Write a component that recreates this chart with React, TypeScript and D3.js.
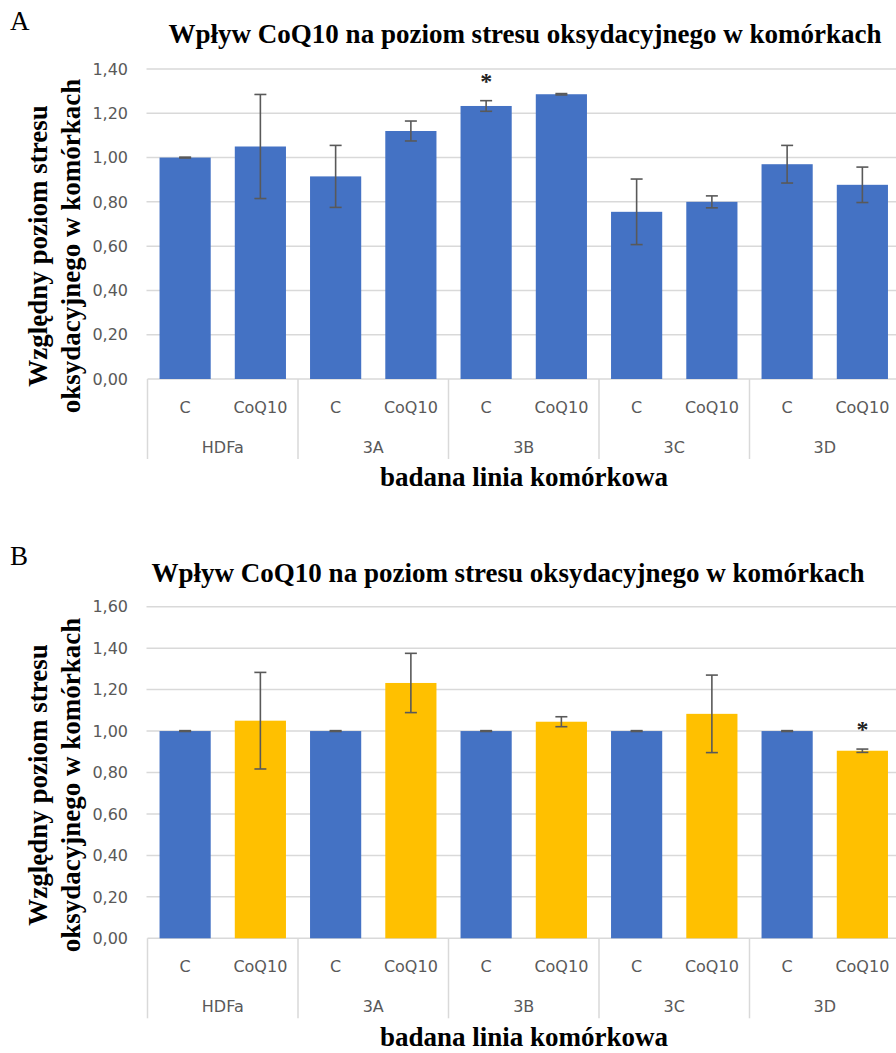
import React from "react";
import * as d3 from "d3";

const categories = ["C", "CoQ10", "C", "CoQ10", "C", "CoQ10", "C", "CoQ10", "C", "CoQ10"];
const groups = ["HDFa", "3A", "3B", "3C", "3D"];
const valuesA = [1.0, 1.05, 0.915, 1.12, 1.233, 1.286, 0.755, 0.8, 0.97, 0.877];
const errorsA = [0.002, 0.235, 0.14, 0.045, 0.024, 0.003, 0.148, 0.027, 0.085, 0.08];
const starsA = [false, false, false, false, true, false, false, false, false, false];
const valuesB = [1.0, 1.05, 1.0, 1.232, 1.0, 1.045, 1.0, 1.083, 1.0, 0.905];
const errorsB = [0.002, 0.233, 0.002, 0.143, 0.002, 0.024, 0.002, 0.187, 0.002, 0.008];
const starsB = [false, false, false, false, false, false, false, false, false, true];
const ticksA = [0, 0.2, 0.4, 0.6, 0.8, 1.0, 1.2, 1.4];
const ticksB = [0, 0.2, 0.4, 0.6, 0.8, 1.0, 1.2, 1.4, 1.6];
const colorsA = ["#4472C4", "#4472C4"];
const colorsB = ["#4472C4", "#FFC000"];

const titleText = "Wpływ CoQ10 na poziom stresu oksydacyjnego w komórkach";
const yTitle1 = "Względny poziom stresu";
const yTitle2 = "oksydacyjnego w komórkach";
const xTitle = "badana linia komórkowa";

const plLocale = d3.formatLocale({ decimal: ",", thousands: " ", grouping: [3], currency: ["", " zł"] });
const fmt = plLocale.format(".2f");

const serif = "'Liberation Serif', 'Times New Roman', serif";
const sans = "'DejaVu Sans', Verdana, sans-serif";

type PanelProps = {
  letter: string;
  letterY: number;
  titleX: number;
  titleY: number;
  yZero: number;
  yTop: number;
  yMax: number;
  ticks: number[];
  values: number[];
  errors: number[];
  stars: boolean[];
  colors: string[];
  yTitleCenter: number;
  xTitleY: number;
};

function Panel(p: PanelProps) {
  const left = 147.5;
  const right = 900;
  const x = d3.scaleBand<number>().domain(d3.range(categories.length)).range([left, right]).paddingInner(0.32).paddingOuter(0.16);
  const xg = d3.scaleBand<string>().domain(groups).range([left, right]).padding(0);
  const y = d3.scaleLinear().domain([0, p.yMax]).range([p.yZero, p.yTop]);
  const sepBottom = p.yZero + 80;
  const catY = p.yZero + 33.5;
  const grpY = p.yZero + 73.5;
  return (
    <g>
      <text x={10} y={p.letterY} fontFamily={serif} fontSize={27} fill="#000">{p.letter}</text>
      <text x={p.titleX} y={p.titleY} textAnchor="middle" fontFamily={serif} fontWeight="bold" fontSize={27} fill="#000">{titleText}</text>
      {p.ticks.map((t) => (
        <g key={"t" + t}>
          {t > 0 && <line x1={left - 1} x2={896} y1={y(t)} y2={y(t)} stroke="#D9D9D9" strokeWidth={1.5} />}
          <text x={128} y={y(t)} dy="0.36em" textAnchor="end" fontFamily={sans} fontSize={16} fill="#595959">{fmt(t)}</text>
        </g>
      ))}
      <line x1={left} x2={896} y1={p.yZero} y2={p.yZero} stroke="#D9D9D9" strokeWidth={1.5} />
      {p.values.map((v, i) => (
        <rect key={"b" + i} x={x(i)} y={y(v)} width={x.bandwidth()} height={y(0) - y(v)} fill={p.colors[i % 2]} />
      ))}
      {p.values.map((v, i) => {
        const cx = (x(i) as number) + x.bandwidth() / 2;
        const hi = y(v + p.errors[i]);
        const lo = y(v - p.errors[i]);
        return (
          <g key={"e" + i} stroke="#595959" strokeWidth={1.6}>
            <line x1={cx} x2={cx} y1={hi} y2={lo} />
            <line x1={cx - 6} x2={cx + 6} y1={hi} y2={hi} />
            <line x1={cx - 6} x2={cx + 6} y1={lo} y2={lo} />
          </g>
        );
      })}
      {p.values.map((v, i) =>
        p.stars[i] ? (
          <text key={"s" + i} x={(x(i) as number) + x.bandwidth() / 2} y={y(v + p.errors[i]) - 12} textAnchor="middle" fontFamily={serif} fontWeight="bold" fontSize={24} fill="#222">*</text>
        ) : null
      )}
      {d3.range(groups.length + 1).map((g) => {
        const gx = g < groups.length ? (xg(groups[g]) as number) : right;
        return <line key={"sep" + g} x1={gx} x2={gx} y1={p.yZero} y2={sepBottom} stroke="#D9D9D9" strokeWidth={1.5} />;
      })}
      {categories.map((c, i) => (
        <text key={"c" + i} x={(x(i) as number) + x.bandwidth() / 2} y={catY} textAnchor="middle" fontFamily={sans} fontSize={16} fill="#595959">{c}</text>
      ))}
      {groups.map((g) => (
        <text key={"g" + g} x={(xg(g) as number) + xg.bandwidth() / 2} y={grpY} textAnchor="middle" fontFamily={sans} fontSize={16} fill="#595959">{g}</text>
      ))}
      <text transform={`translate(47,${p.yTitleCenter}) rotate(-90)`} textAnchor="middle" fontFamily={serif} fontWeight="bold" fontSize={27} fill="#000">{yTitle1}</text>
      <text transform={`translate(80,${p.yTitleCenter}) rotate(-90)`} textAnchor="middle" fontFamily={serif} fontWeight="bold" fontSize={27} fill="#000">{yTitle2}</text>
      <text x={524} y={p.xTitleY} textAnchor="middle" fontFamily={serif} fontWeight="bold" fontSize={27} fill="#000">{xTitle}</text>
    </g>
  );
}

export default function App() {
  return (
    <svg width={896} height={1053} style={{ position: "absolute", left: 0, top: 0, background: "#fff" }}>
      <rect width={896} height={1053} fill="#fff" />
      <Panel letter="A" letterY={30} titleX={525} titleY={43} yZero={379} yTop={69} yMax={1.4} ticks={ticksA}
        values={valuesA} errors={errorsA} stars={starsA} colors={colorsA} yTitleCenter={246} xTitleY={486} />
      <Panel letter="B" letterY={565} titleX={508} titleY={582} yZero={938.3} yTop={606.7} yMax={1.6} ticks={ticksB}
        values={valuesB} errors={errorsB} stars={starsB} colors={colorsB} yTitleCenter={785} xTitleY={1046} />
    </svg>
  );
}
